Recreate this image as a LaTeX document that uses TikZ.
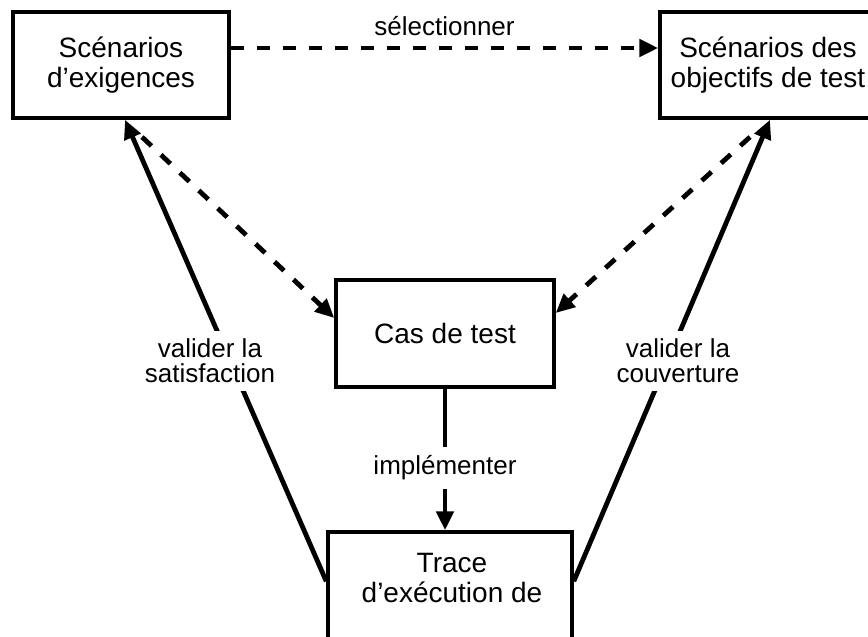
\documentclass[tikz,border=0pt]{standalone}
\usepackage{fontspec}
\setmainfont{Liberation Sans}
\usetikzlibrary{arrows.meta,calc}
\begin{document}
\begin{tikzpicture}[x=1pt,y=-1pt,
  box/.style={draw, line width=3.5pt, align=center, inner sep=0pt, font=\fontsize{28}{30}\selectfont},
  boxtext/.style={align=center, inner sep=0pt, font=\fontsize{28}{30}\selectfont},
  lbl/.style={align=center, fill=white, inner xsep=4pt, inner ysep=8pt, font=\fontsize{26}{25}\selectfont},
  arr/.style={line width=4.8pt, -{Triangle[length=19pt,width=17pt]}},
  dsh/.style={arr, dash pattern=on 13pt off 13pt}]
\useasboundingbox (0,0) rectangle (868,637);
\clip (0,0) rectangle (868,637);
\fill[white] (0,0) rectangle (868,637);
% boxes
\node[box, minimum width=216pt, minimum height=106pt] (b1) at (121,65) {Scénarios\\d’exigences};
\node[box, minimum width=216pt, minimum height=106pt] (b2) at (768,65) {Scénarios des\\objectifs de test};
\node[box, minimum width=218pt, minimum height=107pt] (b3) at (445,333.5) {Cas de test};
\node[box, minimum width=244pt, minimum height=168pt] (b4) at (450,616) {};
\node[boxtext] (b4t) at (452,578) {Trace\\d’exécution de};
% free ends of dashed connectors
\coordinate (d1s) at (142,137);
\coordinate (d2s) at (750,137);
% connectors
\draw[dsh] ([yshift=17pt]b1.east) -- node[midway, above=10pt, inner sep=0pt, font=\fontsize{26}{30}\selectfont] (sel) {sélectionner} ([yshift=17pt]b2.west);
\draw[dsh] (d1s) -- ([yshift=15.5pt]b3.west);
\draw[dsh] (d2s) -- ([yshift=20.5pt]b3.east);
\draw[arr] (b3.south) -- node[lbl, pos=0.56, inner ysep=9pt, inner xsep=3pt] (impl) {implémenter} (b3.south |- b4.north);
\draw[arr] ([yshift=-51pt]b4.north west) -- ([xshift=4pt]b1.south);
\draw[arr] ([yshift=-51pt]b4.north east) -- ([xshift=2pt]b2.south);
% labels on the solid connectors
\node[lbl] (vs) at (210,361) {valider la\\satisfaction};
\node[lbl] (vc) at (678,361) {valider la\\couverture};
\end{tikzpicture}
\end{document}
